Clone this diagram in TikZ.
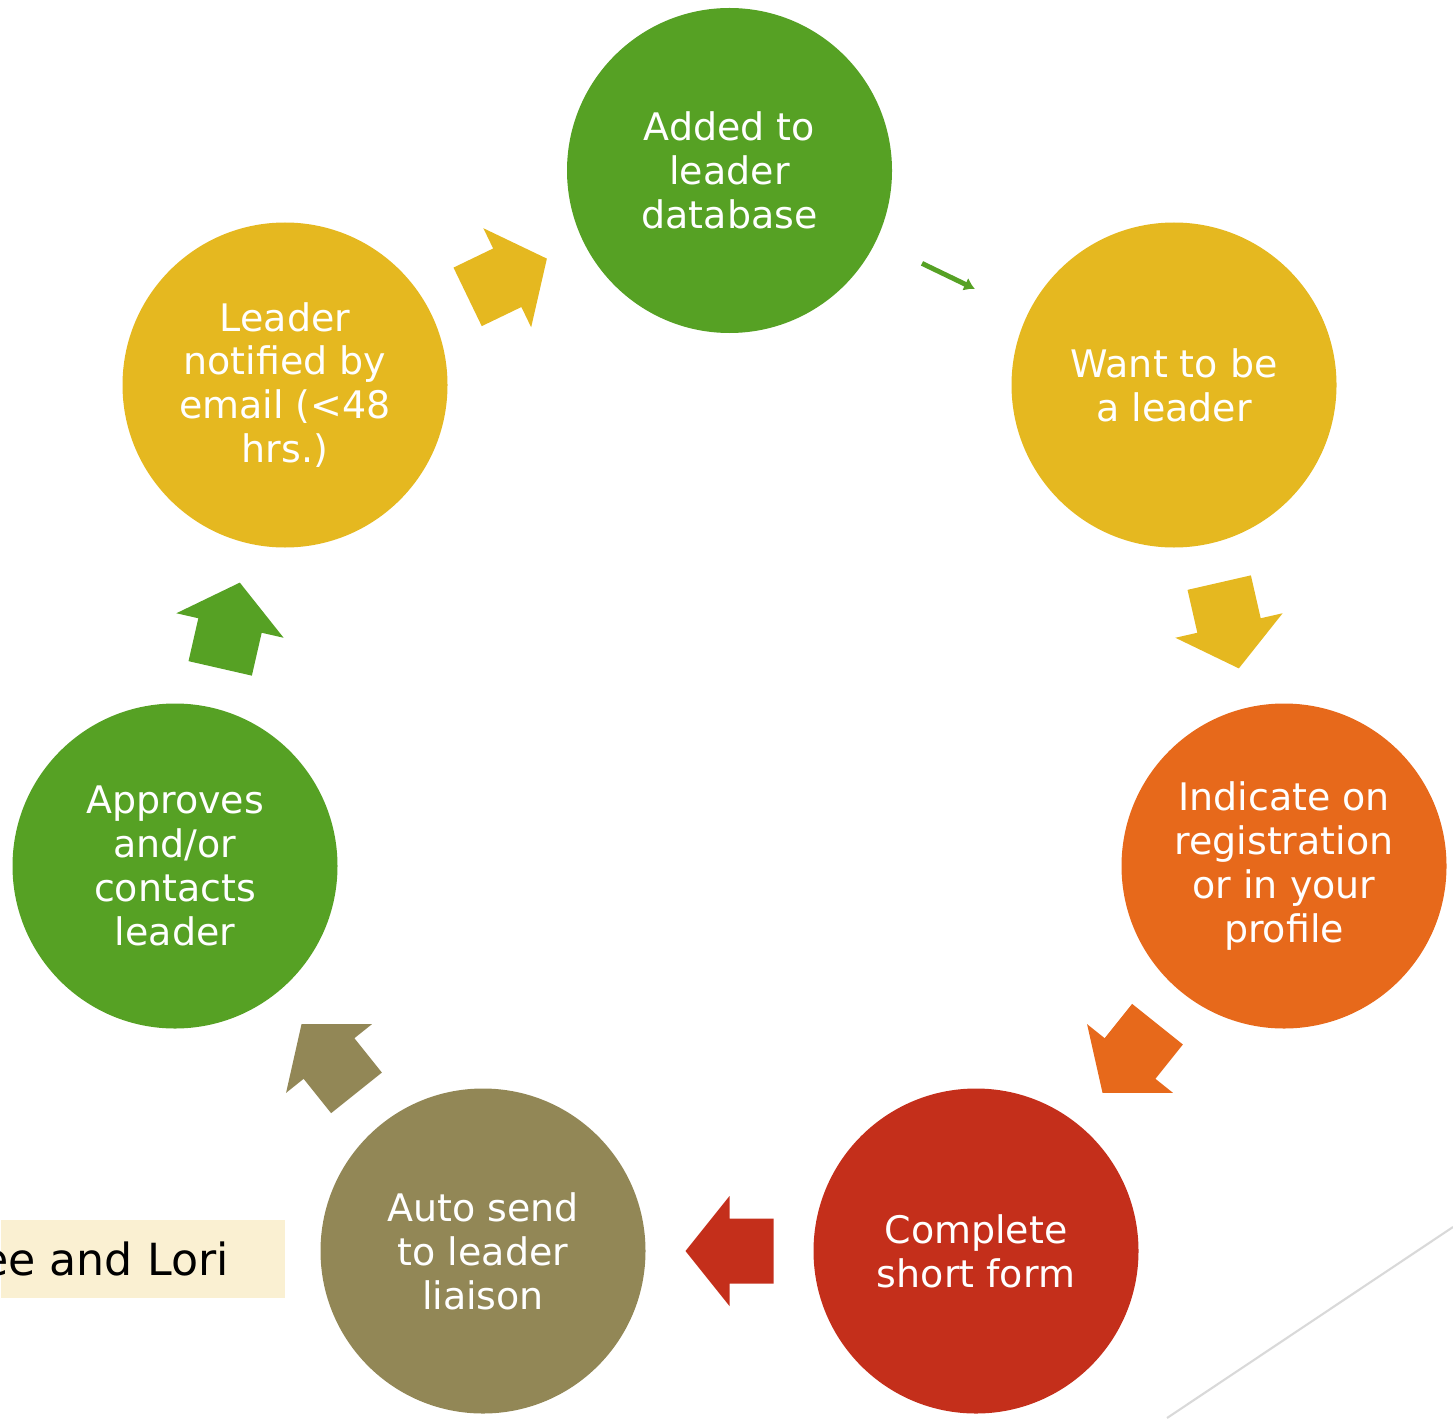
\documentclass[tikz,border=0pt]{standalone}
\usepackage{fontspec}
\setmainfont{DejaVu Sans}
\usetikzlibrary{calc,arrows.meta}

\definecolor{leafgreen}{RGB}{86,161,36}
\definecolor{gold}{RGB}{229,184,32}
\definecolor{burntorange}{RGB}{231,105,27}
\definecolor{brickred}{RGB}{196,47,27}
\definecolor{khaki}{RGB}{146,135,86}
\definecolor{cream}{RGB}{250,240,210}

\tikzset{blockarrow/.pic={\fill[#1] (-0.44,-0.325) -- (0,-0.325) -- (0,-0.55) -- (0.44,0) -- (0,0.55) -- (0,0.325) -- (-0.44,0.325) -- cycle;}}

\newcommand{\steparrow}[3]{%
  \path let \p1=(#1), \p2=(#2), \n1={atan2(\y2-\y1,\x2-\x1)} in
    ($(#1)!0.5!(#2)$) pic[rotate=\n1] {blockarrow=#3};}

\begin{document}
\begin{tikzpicture}[
                        stage/.style={circle, minimum size=3.25cm, inner sep=0pt, text=white, align=center, font=\fontsize{10.8}{12.5}\selectfont},
                        >=Latex
                    ]
                    \useasboundingbox (0,0) rectangle (14.53,-14.18);
                    % Stages
                    \node [stage, fill=leafgreen] (added) at (7.295,-1.705) {Added to\\leader\\database};
                    \node [stage, fill=gold] (want) at (11.74,-3.85) {Want to be\\a leader};
                    \node [stage, fill=burntorange] (indicate) at (12.84,-8.66) {Indicate on\\registration\\or in your\\profile};
                    \node [stage, fill=brickred] (complete) at (9.76,-12.51) {Complete\\short form};
                    \node [stage, fill=khaki] (autosend) at (4.83,-12.51) {Auto send\\to leader\\liaison};
                    \node [stage, fill=leafgreen] (approves) at (1.75,-8.66) {Approves\\and/or\\contacts\\leader};
                    \node [stage, fill=gold] (notified) at (2.85,-3.85) {Leader\\notified by\\email (<48\\hrs.)};

                    % Connections
                    \draw [->, leafgreen, line width=1.4pt, >={Latex[length=3pt,width=4pt]}] ($(added)!0.433!(want)$) -- ($(added)!0.552!(want)$);
                    \steparrow{want}{indicate}{gold}
                    \steparrow{indicate}{complete}{burntorange}
                    \steparrow{complete}{autosend}{brickred}
                    \steparrow{autosend}{approves}{khaki}
                    \steparrow{approves}{notified}{leafgreen}
                    \steparrow{notified}{added}{gold}

                    % Note and slide line
                    \node [fill=cream, minimum width=2.84cm, minimum height=0.78cm, inner sep=0pt, anchor=north west] (notebox) at (0,-12.19) {};
                    \node [anchor=base east, inner sep=0pt, font=\fontsize{12.6}{15}\selectfont] (notetext) at ($(notebox.south east)+(-0.56,0.23)$) {ee and Lori};
                    \coordinate (lineA) at (11.67,-14.18);
                    \coordinate (lineB) at (14.53,-12.27);
                    \draw [black!15, line width=0.6pt] (lineA) -- (lineB);
                \end{tikzpicture}
\end{document}
